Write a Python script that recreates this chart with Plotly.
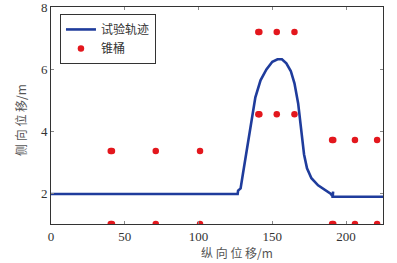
import plotly.graph_objects as go

# Trajectory (试验轨迹)
traj_x = [0, 126.5, 126.8, 128.5, 130.0, 132.0, 134.0, 136.0, 138.5, 142.0, 146.0, 150.0,
          153.5, 156.5, 159.5, 162.5, 165.0, 167.5, 169.5, 171.5, 173.5, 176.5, 181.0,
          186.0, 189.5, 190.8, 191.2, 190.9, 225.0]
traj_y = [1.97, 1.97, 2.08, 2.15, 2.6, 3.2, 3.8, 4.5, 5.1, 5.65, 6.0, 6.25,
          6.33, 6.33, 6.2, 5.95, 5.55, 4.9, 4.1, 3.25, 2.8, 2.48, 2.25,
          2.08, 1.98, 1.9, 2.05, 1.88, 1.88]

# Cones (锥桶)
cone_x = [40.5, 41.3, 71, 101, 140.5, 141.2, 153, 165, 140.5, 141.2, 153, 165,
          190.5, 191.3, 206, 221, 40.5, 41.3, 71, 101, 190.5, 191.3, 206, 221]
cone_y = [3.36, 3.36, 3.36, 3.36, 7.21, 7.21, 7.21, 7.21, 4.55, 4.55, 4.55, 4.55,
          3.72, 3.72, 3.72, 3.72, 1.0, 1.0, 1.0, 1.0, 1.0, 1.0, 1.0, 1.0]

x_ticks = [0, 50, 100, 150, 200]
y_ticks = [2, 4, 6, 8]

fig = go.Figure()
fig.add_trace(go.Scatter(x=traj_x, y=traj_y, mode="lines", name="试验轨迹",
                         line=dict(color="#1f3c9c", width=2.6)))
fig.add_trace(go.Scatter(x=cone_x, y=cone_y, mode="markers", name="锥桶",
                         marker=dict(color="#e3171d", size=6.5), cliponaxis=True))

axis_common = dict(showgrid=False, zeroline=False, showline=True, linecolor="#333",
                   linewidth=1, mirror="ticks", ticks="inside", ticklen=3,
                   tickcolor="#888", automargin=False,
                   tickfont=dict(family="Liberation Serif", size=13, color="#333"))

fig.update_xaxes(range=[0, 225], tickvals=x_ticks, **axis_common)
fig.update_yaxes(range=[1.0, 8.02], tickvals=y_ticks, **axis_common)

fig.update_layout(
    width=397, height=263,
    margin=dict(l=51, r=14, t=7, b=39, autoexpand=False),
    plot_bgcolor="white", paper_bgcolor="white",
    legend=dict(x=0.027, y=0.968, xanchor="left", yanchor="top",
                bordercolor="#333", borderwidth=1, bgcolor="white",
                font=dict(family="Noto Sans CJK SC", size=12, color="#333"),
                itemwidth=30, tracegroupgap=0),
    showlegend=True,
    annotations=[
        dict(text="纵 向 位 移/m", xref="paper", yref="paper", x=0.56, y=-0.13,
             xanchor="center", yanchor="middle", showarrow=False,
             font=dict(family="Noto Sans CJK SC", size=12, color="#555")),
        dict(text="侧 向 位 移/m", xref="paper", yref="paper", x=-0.09, y=0.48,
             xanchor="center", yanchor="middle", textangle=-90, showarrow=False,
             font=dict(family="Noto Sans CJK SC", size=12, color="#555")),
    ],
)

fig.write_html("out.html", config={"displayModeBar": False},
               post_script="document.body.style.margin='0';")
